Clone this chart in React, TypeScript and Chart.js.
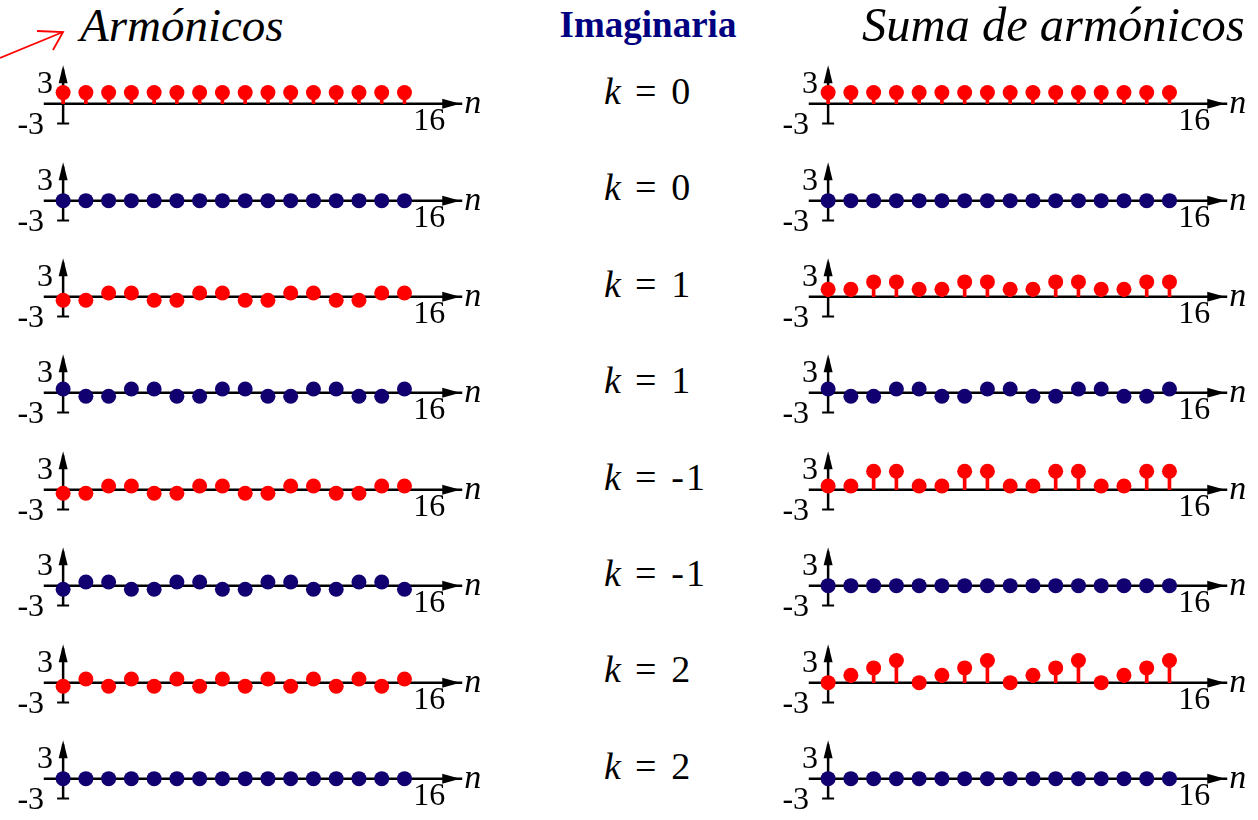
import React, { useEffect, useRef } from 'react';
import { Chart, registerables } from 'chart.js';

Chart.register(...registerables);

// ---------- data ----------
const N_VALUES = [0, 1, 2, 3, 4, 5, 6, 7, 8, 9, 10, 11, 12, 13, 14, 15];

const K_LABELS = ['0', '0', '1', '1', '-1', '-1', '2', '2'];
const PART = ['re', 'im', 're', 'im', 're', 'im', 're', 'im'];

// Individual harmonics (left column)
const H0_RE = [1.5, 1.5, 1.5, 1.5, 1.5, 1.5, 1.5, 1.5, 1.5, 1.5, 1.5, 1.5, 1.5, 1.5, 1.5, 1.5];
const H0_IM = [0, 0, 0, 0, 0, 0, 0, 0, 0, 0, 0, 0, 0, 0, 0, 0];
const H1_RE = [-0.5, -0.5, 0.5, 0.5, -0.5, -0.5, 0.5, 0.5, -0.5, -0.5, 0.5, 0.5, -0.5, -0.5, 0.5, 0.5];
const H1_IM = [0.5, -0.5, -0.5, 0.5, 0.5, -0.5, -0.5, 0.5, 0.5, -0.5, -0.5, 0.5, 0.5, -0.5, -0.5, 0.5];
const HM1_RE = [-0.5, -0.5, 0.5, 0.5, -0.5, -0.5, 0.5, 0.5, -0.5, -0.5, 0.5, 0.5, -0.5, -0.5, 0.5, 0.5];
const HM1_IM = [-0.5, 0.5, 0.5, -0.5, -0.5, 0.5, 0.5, -0.5, -0.5, 0.5, 0.5, -0.5, -0.5, 0.5, 0.5, -0.5];
const H2_RE = [-0.5, 0.5, -0.5, 0.5, -0.5, 0.5, -0.5, 0.5, -0.5, 0.5, -0.5, 0.5, -0.5, 0.5, -0.5, 0.5];
const H2_IM = [0, 0, 0, 0, 0, 0, 0, 0, 0, 0, 0, 0, 0, 0, 0, 0];

// Cumulative sums (right column)
const S0_RE = [1.5, 1.5, 1.5, 1.5, 1.5, 1.5, 1.5, 1.5, 1.5, 1.5, 1.5, 1.5, 1.5, 1.5, 1.5, 1.5];
const S0_IM = [0, 0, 0, 0, 0, 0, 0, 0, 0, 0, 0, 0, 0, 0, 0, 0];
const S1_RE = [1, 1, 2, 2, 1, 1, 2, 2, 1, 1, 2, 2, 1, 1, 2, 2];
const S1_IM = [0.5, -0.5, -0.5, 0.5, 0.5, -0.5, -0.5, 0.5, 0.5, -0.5, -0.5, 0.5, 0.5, -0.5, -0.5, 0.5];
const SM1_RE = [0.5, 0.5, 2.5, 2.5, 0.5, 0.5, 2.5, 2.5, 0.5, 0.5, 2.5, 2.5, 0.5, 0.5, 2.5, 2.5];
const SM1_IM = [0, 0, 0, 0, 0, 0, 0, 0, 0, 0, 0, 0, 0, 0, 0, 0];
const S2_RE = [0, 1, 2, 3, 0, 1, 2, 3, 0, 1, 2, 3, 0, 1, 2, 3];
const S2_IM = [0, 0, 0, 0, 0, 0, 0, 0, 0, 0, 0, 0, 0, 0, 0, 0];

const LEFT_SERIES = [H0_RE, H0_IM, H1_RE, H1_IM, HM1_RE, HM1_IM, H2_RE, H2_IM];
const RIGHT_SERIES = [S0_RE, S0_IM, S1_RE, S1_IM, SM1_RE, SM1_IM, S2_RE, S2_IM];

const Y_TICKS = [3, -3];
const Y_TICK_LABELS = ['3', '-3'];
const X_TICK = 16;
const X_TICK_LABEL = '16';
const X_AXIS_NAME = 'n';

// ---------- layout / style ----------
const RED = '#ff0000';
const NAVY = '#110070';
const SERIF = '"Liberation Serif", serif';

const CANVAS_W = 502;
const CANVAS_H = 96;
const X_MIN = -2.4;
const X_MAX = 19.0;
const Y_MIN = -4.6;
const Y_MAX = 6.4;
const PX_PER_N = CANVAS_W / (X_MAX - X_MIN);
const PX_PER_Y = CANVAS_H / (Y_MAX - Y_MIN);

const LEFT_AXIS_X = 57;
const RIGHT_AXIS_X = 822;
const FIRST_AXIS_Y = 105;
const ROW_STEP = 96.4;

const axesPlugin = {
  id: 'stemAxes',
  beforeDatasetsDraw(chart: any) {
    const { ctx } = chart;
    const xs = chart.scales.x;
    const ys = chart.scales.y;
    const x0 = xs.getPixelForValue(0);
    const y0 = ys.getPixelForValue(0);
    const xStart = xs.getPixelForValue(-0.85);
    const xEnd = xs.getPixelForValue(17.45);
    const yBottom = ys.getPixelForValue(-2.7);
    const yTop = ys.getPixelForValue(5.2);
    ctx.save();
    ctx.strokeStyle = '#000';
    ctx.fillStyle = '#000';
    ctx.lineWidth = 2.5;
    // x axis
    ctx.beginPath();
    ctx.moveTo(xStart, y0);
    ctx.lineTo(xEnd + 2, y0);
    ctx.stroke();
    ctx.beginPath();
    ctx.moveTo(xEnd, y0);
    ctx.lineTo(xEnd - 18, y0 - 5);
    ctx.lineTo(xEnd - 18, y0 + 5);
    ctx.closePath();
    ctx.fill();
    // y axis
    ctx.beginPath();
    ctx.moveTo(x0, yBottom);
    ctx.lineTo(x0, yTop + 4);
    ctx.stroke();
    ctx.beginPath();
    ctx.moveTo(x0, yTop);
    ctx.lineTo(x0 - 4.5, yTop + 18);
    ctx.lineTo(x0 + 4.5, yTop + 18);
    ctx.closePath();
    ctx.fill();
    ctx.lineWidth = 2;
    ctx.beginPath();
    ctx.moveTo(x0 - 6, yBottom);
    ctx.lineTo(x0 + 6, yBottom);
    ctx.stroke();
    // labels
    ctx.font = `32px ${SERIF}`;
    ctx.textBaseline = 'alphabetic';
    ctx.textAlign = 'right';
    ctx.fillText(Y_TICK_LABELS[0], x0 - 10, ys.getPixelForValue(Y_TICKS[0]) + 11);
    ctx.fillText(Y_TICK_LABELS[1], x0 - 19, ys.getPixelForValue(Y_TICKS[1]) + 8);
    ctx.textAlign = 'center';
    ctx.fillText(X_TICK_LABEL, xs.getPixelForValue(X_TICK) + 2, ys.getPixelForValue(-3) + 4);
    ctx.font = `italic 34px ${SERIF}`;
    ctx.textAlign = 'left';
    ctx.fillText(X_AXIS_NAME, xEnd + 4, y0 + 9);
    ctx.restore();
  },
};

function StemPlot({ values, color, axisX, axisY }: { values: number[]; color: string; axisX: number; axisY: number }) {
  const ref = useRef<HTMLCanvasElement>(null);
  useEffect(() => {
    if (!ref.current) return;
    const pts = N_VALUES.map((n, i) => ({ x: n, y: values[i] }));
    const chart = new Chart(ref.current, {
      type: 'bar',
      data: {
        datasets: [
          {
            type: 'line',
            data: pts,
            showLine: false,
            pointRadius: 7.5,
            pointHoverRadius: 7.5,
            pointBackgroundColor: color,
            pointBorderColor: color,
            pointBorderWidth: 0,
          } as any,
          {
            type: 'bar',
            data: pts,
            backgroundColor: color,
            borderWidth: 0,
            barThickness: 3,
          } as any,
        ],
      },
      options: {
        animation: false,
        responsive: false,
        events: [],
        layout: { padding: 0 },
        plugins: { legend: { display: false }, tooltip: { enabled: false } },
        scales: {
          x: { type: 'linear', min: X_MIN, max: X_MAX, display: false, offset: false },
          y: { type: 'linear', min: Y_MIN, max: Y_MAX, display: false },
        },
      } as any,
      plugins: [axesPlugin],
    });
    return () => chart.destroy();
  }, [values, color]);
  const left = Math.round(axisX + X_MIN * PX_PER_N);
  const top = Math.round(axisY - Y_MAX * PX_PER_Y);
  return (
    <canvas
      ref={ref}
      width={CANVAS_W}
      height={CANVAS_H}
      style={{ position: 'absolute', left, top, width: CANVAS_W, height: CANVAS_H }}
    />
  );
}

function KLabel({ k, axisY }: { k: string; axisY: number }) {
  return (
    <div
      style={{
        position: 'absolute',
        left: 604,
        top: axisY - 33,
        fontFamily: SERIF,
        fontSize: 38,
        lineHeight: 1,
        whiteSpace: 'nowrap',
        color: '#000',
      }}
    >
      <span style={{ fontStyle: 'italic' }}>k</span>
      <span style={{ margin: '0 15px 0 14px' }}>=</span>
      <span style={{ letterSpacing: 2 }}>{k}</span>
    </div>
  );
}

export default function App() {
  return (
    <div
      style={{
        position: 'absolute',
        left: 0,
        top: 0,
        width: 1258,
        height: 820,
        overflow: 'hidden',
        background: '#fff',
        fontFamily: SERIF,
      }}
    >
      <svg width={80} height={70} style={{ position: 'absolute', left: 0, top: 0 }}>
        <line x1={0} y1={58} x2={63} y2={32} stroke={RED} strokeWidth={1.8} />
        <polyline points="37,31 63,32 53,50" fill="none" stroke={RED} strokeWidth={1.8} />
      </svg>
      <div
        style={{
          position: 'absolute',
          left: 80,
          top: 2,
          fontFamily: SERIF,
          fontStyle: 'italic',
          fontSize: 47,
          lineHeight: 1,
          whiteSpace: 'nowrap',
          color: '#000',
        }}
      >
        Armónicos
      </div>
      <div
        style={{
          position: 'absolute',
          left: 548,
          width: 200,
          top: 6,
          textAlign: 'center',
          fontFamily: SERIF,
          fontWeight: 'bold',
          fontSize: 37,
          lineHeight: 1,
          whiteSpace: 'nowrap',
          color: '#000080',
        }}
      >
        Imaginaria
      </div>
      <div
        style={{
          position: 'absolute',
          left: 862,
          top: 1,
          fontFamily: SERIF,
          fontStyle: 'italic',
          fontSize: 48.5,
          lineHeight: 1,
          whiteSpace: 'nowrap',
          color: '#000',
        }}
      >
        Suma de armónicos
      </div>
      {K_LABELS.map((k, i) => {
        const axisY = FIRST_AXIS_Y + i * ROW_STEP;
        const color = PART[i] === 're' ? RED : NAVY;
        return (
          <React.Fragment key={i}>
            <StemPlot values={LEFT_SERIES[i]} color={color} axisX={LEFT_AXIS_X} axisY={axisY} />
            <KLabel k={k} axisY={axisY} />
            <StemPlot values={RIGHT_SERIES[i]} color={color} axisX={RIGHT_AXIS_X} axisY={axisY} />
          </React.Fragment>
        );
      })}
    </div>
  );
}
